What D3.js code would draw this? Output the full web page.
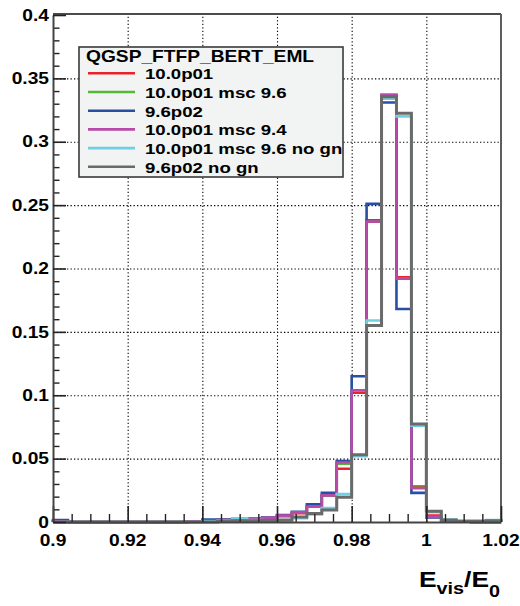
<!DOCTYPE html>
<html>
<head>
<meta charset="utf-8">
<script src="https://cdn.jsdelivr.net/npm/d3@7"></script>
<style>
  html, body { margin: 0; padding: 0; background: #fff; }
  svg { display: block; }
  text { font-family: "Liberation Sans", Arial, Helvetica, sans-serif; font-weight: bold; fill: #000; }
</style>
</head>
<body>
<svg id="chart" width="520" height="606"></svg>
<script>
// Histogram binning: 30 bins of width 0.004 from 0.9 to 1.02
const binLow = 0.9;
const binWidth = 0.004;

// Normalised bin contents, one array per physics-list configuration
const red10p01 = [0.0005,0,0,0,0,0,0,0,0,0.0005, 0.001,0.0015,0.002,0.0025,0.003, 0.0045,0.007,0.012,0.021,0.042, 0.102,0.238,0.336,0.193,0.028, 0.005,0.001,0.0005,0,0];
const green10p01msc96 = [0.0005,0,0,0,0,0,0,0,0,0.0005, 0.001,0.0015,0.002,0.0025,0.0032, 0.005,0.0075,0.012,0.021,0.046, 0.104,0.237,0.337,0.192,0.027, 0.004,0.001,0.0005,0,0];
const blue9p6p02 = [0.0015,0,0,0,0,0,0,0,0,0.0005, 0.002,0.002,0.0025,0.003,0.0035, 0.0055,0.008,0.014,0.023,0.048, 0.115,0.251,0.331,0.168,0.023, 0.0035,0.001,0.0005,0,0];
const magenta10p01msc94 = [0.0005,0,0,0,0,0,0,0,0,0.0005, 0.001,0.0015,0.002,0.003,0.0033, 0.005,0.0077,0.012,0.021,0.047, 0.104,0.237,0.337,0.192,0.0266, 0.004,0.001,0.0005,0,0];
const cyan10p01msc96nogn = [0,0,0,0,0,0,0,0,0,0, 0.0005,0.001,0.003,0.0015,0.001, 0.001,0.003,0.006,0.011,0.022, 0.052,0.159,0.334,0.320,0.076, 0.0077,0.002,0.001,0.001,0.0015];
const gray9p6p02nogn = [0,0,0,0,0,0,0,0,0,0, 0,0.0005,0.001,0.001,0.0012, 0.0015,0.004,0.0068,0.0095,0.0195, 0.053,0.155,0.3355,0.3225,0.0773, 0.0085,0.0015,0.0005,0.0005,0.001];

const seriesNames = ["10.0p01", "10.0p01 msc 9.6", "9.6p02", "10.0p01 msc 9.4", "10.0p01 msc 9.6 no gn", "9.6p02 no gn"];
const seriesValues = [red10p01, green10p01msc96, blue9p6p02, magenta10p01msc94, cyan10p01msc96nogn, gray9p6p02nogn];
const seriesColors = ["#e8232b", "#55b83a", "#2a4fa2", "#b84aa8", "#70cfe2", "#6a6a6a"];
const seriesWidths = [2.6, 2.6, 2.6, 2.6, 2.6, 3.0];

const legendTitle = "QGSP_FTFP_BERT_EML";
const xMajorTicks = [0.9, 0.92, 0.94, 0.96, 0.98, 1.0, 1.02];
const yMajorTicks = [0, 0.05, 0.1, 0.15, 0.2, 0.25, 0.3, 0.35, 0.4];
const xGridTicks = [0.92, 0.94, 0.96, 0.98, 1.0];
const yGridTicks = [0.05, 0.1, 0.15, 0.2, 0.25, 0.3, 0.35];

// Layout
const plot = { left: 53, right: 501, top: 15, bottom: 522 };
const stretch = 1.2;   // wide sans glyphs

const svg = d3.select("#chart");
const x = d3.scaleLinear().domain([0.9, 1.02]).range([plot.left, plot.right]);
const y = d3.scaleLinear().domain([0, 0.4]).range([plot.bottom, plot.top]);

// Stretched text helper
function label(parent, px, py, str, size, anchor) {
  return parent.append("text")
    .attr("transform", `translate(${px},${py}) scale(${stretch},1)`)
    .attr("text-anchor", anchor || "start")
    .style("font-size", size + "px")
    .text(str);
}

// Dotted grid
const grid = svg.append("g");
grid.append("g")
  .attr("transform", `translate(0,${plot.bottom})`)
  .call(d3.axisBottom(x).tickValues(xGridTicks).tickSize(-(plot.bottom - plot.top)).tickFormat(""))
  .call(g => g.select(".domain").remove())
  .call(g => g.selectAll("line").attr("stroke", "#000").attr("stroke-width", 1.1).attr("stroke-dasharray", "1.3,2.2"));
grid.append("g")
  .attr("transform", `translate(${plot.left},0)`)
  .call(d3.axisLeft(y).tickValues(yGridTicks).tickSize(-(plot.right - plot.left)).tickFormat(""))
  .call(g => g.select(".domain").remove())
  .call(g => g.selectAll("line").attr("stroke", "#000").attr("stroke-width", 1.1).attr("stroke-dasharray", "1.3,2.2"));

// Histogram outlines
const line = d3.line();
seriesValues.forEach((vals, k) => {
  const pts = [[x(binLow), y(0)]];
  vals.forEach((v, i) => {
    const x0 = x(binLow + i * binWidth), x1 = x(binLow + (i + 1) * binWidth);
    pts.push([x0, y(v)], [x1, y(v)]);
  });
  pts.push([x(binLow + vals.length * binWidth), y(0)]);
  svg.append("path")
    .attr("d", line(pts))
    .attr("fill", "none")
    .attr("stroke", seriesColors[k])
    .attr("stroke-width", seriesWidths[k])
    .attr("stroke-linejoin", "miter");
});

// Frame top and right
svg.append("line").attr("x1", plot.left).attr("x2", plot.right).attr("y1", plot.top - 1).attr("y2", plot.top - 1)
  .attr("stroke", "#111").attr("stroke-width", 1.6);
svg.append("line").attr("x1", plot.right).attr("x2", plot.right).attr("y1", plot.top - 1).attr("y2", plot.bottom)
  .attr("stroke", "#5e5e5e").attr("stroke-width", 2);

// X axis: major + minor ticks pointing into the frame
const xMinor = d3.range(0, 25).map(i => 0.9 + i * 0.005).filter(v => Math.abs(((v - 0.9) / 0.02) - Math.round((v - 0.9) / 0.02)) > 1e-6);
const xAxisG = svg.append("g").attr("transform", `translate(0,${plot.bottom})`);
xAxisG.append("g")
  .call(d3.axisBottom(x).tickValues(xMinor).tickSize(-8).tickSizeOuter(0).tickFormat(""))
  .call(g => g.select(".domain").remove())
  .call(g => g.selectAll("line").attr("stroke", "#222").attr("stroke-width", 1.4));
xAxisG.append("g")
  .call(d3.axisBottom(x).tickValues(xMajorTicks).tickSize(-16).tickSizeOuter(0).tickFormat(""))
  .call(g => g.select(".domain").attr("stroke", "#444").attr("stroke-width", 2))
  .call(g => g.selectAll("line").attr("stroke", "#222").attr("stroke-width", 1.6));
xMajorTicks.forEach(v => label(svg, x(v), 546, d3.format("~g")(v), 16, "middle"));

// Y axis
const yMinor = d3.range(0, 41).map(i => i * 0.01).filter(v => Math.abs(v / 0.05 - Math.round(v / 0.05)) > 1e-6);
const yAxisG = svg.append("g").attr("transform", `translate(${plot.left},0)`);
yAxisG.append("g")
  .call(d3.axisLeft(y).tickValues(yMinor).tickSize(-6.5).tickSizeOuter(0).tickFormat(""))
  .call(g => g.select(".domain").remove())
  .call(g => g.selectAll("line").attr("stroke", "#222").attr("stroke-width", 1.4));
yAxisG.append("g")
  .call(d3.axisLeft(y).tickValues(yMajorTicks).tickSize(-13).tickSizeOuter(0).tickFormat(""))
  .call(g => g.select(".domain").attr("stroke", "#444").attr("stroke-width", 2))
  .call(g => g.selectAll("line").attr("stroke", "#222").attr("stroke-width", 1.6));
yMajorTicks.forEach(v => label(svg, plot.left - 4, y(v) + 5.7, d3.format("~g")(v), 16, "end"));

// Axis title E_vis / E_0
const xt = svg.append("text")
  .attr("transform", `translate(500,587) scale(${stretch},1)`)
  .attr("text-anchor", "end");
xt.append("tspan").style("font-size", "22px").text("E");
xt.append("tspan").style("font-size", "16.5px").attr("dy", 6.5).text("vis");
xt.append("tspan").style("font-size", "22px").attr("dy", -6.5).text("/E");
xt.append("tspan").style("font-size", "16.5px").attr("dy", 9.5).text("0");

// Legend
const leg = svg.append("g");
leg.append("rect")
  .attr("x", 79).attr("y", 47).attr("width", 264).attr("height", 130)
  .attr("fill", "#f2f3f3").attr("stroke", "#3a3a3a").attr("stroke-width", 1.6);
label(leg, 86, 62, legendTitle, 16, "start");
seriesNames.forEach((name, k) => {
  const ly = 73.3 + k * 18.7;
  leg.append("line").attr("x1", 88).attr("x2", 135).attr("y1", ly).attr("y2", ly)
    .attr("stroke", seriesColors[k]).attr("stroke-width", 2.6);
  label(leg, 145, ly + 5.8, name, 15.5, "start");
});
</script>
</body>
</html>
